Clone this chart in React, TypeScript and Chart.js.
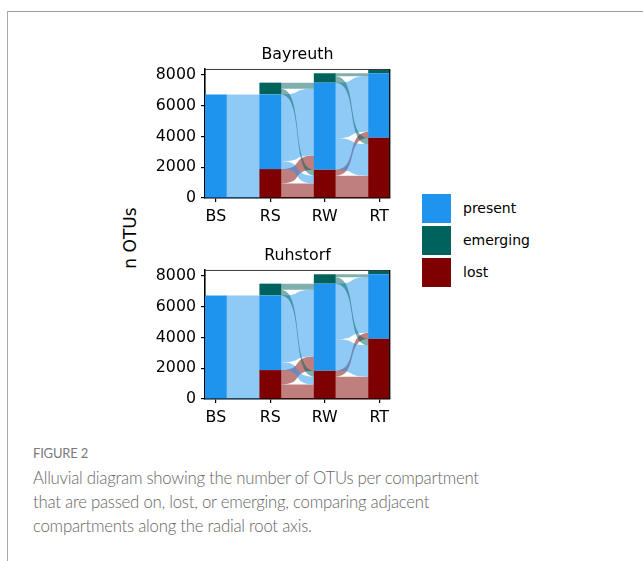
import React, { useEffect, useRef } from "react";
import { Chart, registerables } from "chart.js";

Chart.register(...registerables);

// Compartments along the radial root axis
const compartments = ["BS", "RS", "RW", "RT"];
// Stratum order from the bottom of each column upwards
const strata = ["lost", "present", "emerging"] as const;
type Stratum = (typeof strata)[number];

// OTU counts per stratum in each compartment
const lostOTUs = [0, 1880, 1836, 3915];
const presentOTUs = [6734, 4854, 5664, 4195];
const emergingOTUs = [0, 766, 610, 280];

const yTicks = [0, 2000, 4000, 6000, 8000];

// OTUs passed between adjacent compartments: [from stratum, to stratum, count]
type Flow = [Stratum, Stratum, number];
const flowsBStoRS: Flow[] = [
  ["present", "lost", 1880],
  ["present", "present", 4854],
];
const flowsRStoRW: Flow[] = [
  ["lost", "lost", 950],
  ["lost", "present", 930],
  ["present", "lost", 516],
  ["present", "present", 4338],
  ["emerging", "lost", 370],
  ["emerging", "present", 396],
];
const flowsRWtoRT: Flow[] = [
  ["lost", "lost", 1450],
  ["lost", "present", 386],
  ["present", "lost", 2045],
  ["present", "present", 3619],
  ["emerging", "lost", 420],
  ["emerging", "present", 190],
];
const transitions = [flowsBStoRS, flowsRStoRW, flowsRWtoRT];

const sites = ["Bayreuth", "Ruhstorf"];

const stratumColors: Record<Stratum, string> = {
  present: "#1f94ee",
  emerging: "#00625d",
  lost: "#7f0000",
};
const flowColors: Record<Stratum, string> = {
  present: "rgba(31,148,238,0.5)",
  emerging: "rgba(0,98,93,0.5)",
  lost: "rgba(127,0,0,0.5)",
};

const countsByStratum: Record<Stratum, number[]> = {
  lost: lostOTUs,
  present: presentOTUs,
  emerging: emergingOTUs,
};

const BAR_FRACTION = 0.4;
// how far the curve control points reach into the gap (0.5 = plain S-curve)
const CURVE_REACH = 0.72;
const AXIS_FONT = "'DejaVu Sans', sans-serif";
const AXIS_SIZE = 15.8;

function stratumBase(col: number, s: Stratum): number {
  let base = 0;
  for (const k of strata) {
    if (k === s) break;
    base += countsByStratum[k][col];
  }
  return base;
}

function columnTotal(col: number): number {
  return strata.reduce((sum, s) => sum + countsByStratum[s][col], 0);
}

interface PlacedFlow {
  from: Stratum;
  lo0: number;
  hi0: number;
  lo1: number;
  hi1: number;
}

// Stack the flows inside their source and target strata
function layoutFlows(flows: Flow[], col: number): PlacedFlow[] {
  const src: Record<string, number> = {};
  const dst: Record<string, number> = {};
  strata.forEach((s) => {
    src[s] = stratumBase(col, s);
    dst[s] = stratumBase(col + 1, s);
  });
  const placed = flows.map((f) => ({ f, lo0: 0, hi0: 0, lo1: 0, hi1: 0 }));
  for (const s of strata)
    for (const d of strata)
      for (const p of placed)
        if (p.f[0] === s && p.f[1] === d) {
          p.lo0 = src[s];
          src[s] += p.f[2];
          p.hi0 = src[s];
        }
  for (const d of strata)
    for (const s of strata)
      for (const p of placed)
        if (p.f[0] === s && p.f[1] === d) {
          p.lo1 = dst[d];
          dst[d] += p.f[2];
          p.hi1 = dst[d];
        }
  return placed.map((p) => ({ from: p.f[0], lo0: p.lo0, hi0: p.hi0, lo1: p.lo1, hi1: p.hi1 }));
}

const alluvialFlows = {
  id: "alluvialFlows",
  beforeDatasetsDraw(chart: any) {
    const ctx: CanvasRenderingContext2D = chart.ctx;
    const y = chart.scales.y;
    const bars = chart.getDatasetMeta(0).data as any[];
    ctx.save();
    transitions.forEach((flows, col) => {
      const a = bars[col];
      const b = bars[col + 1];
      const x0 = a.x + a.width / 2 - 0.5;
      const x1 = b.x - b.width / 2 + 0.5;
      const c0 = x0 + (x1 - x0) * CURVE_REACH;
      const c1 = x1 - (x1 - x0) * CURVE_REACH;
      layoutFlows(flows, col).forEach((p) => {
        const t0 = y.getPixelForValue(p.hi0);
        const b0 = y.getPixelForValue(p.lo0);
        const t1 = y.getPixelForValue(p.hi1);
        const b1 = y.getPixelForValue(p.lo1);
        ctx.beginPath();
        ctx.moveTo(x0, t0);
        ctx.bezierCurveTo(c0, t0, c1, t1, x1, t1);
        ctx.lineTo(x1, b1);
        ctx.bezierCurveTo(c1, b1, c0, b0, x0, b0);
        ctx.closePath();
        ctx.fillStyle = flowColors[p.from];
        ctx.fill();
      });
    });
    ctx.restore();
  },
};

// Top and right spines of the axes box
const boxSpines = {
  id: "boxSpines",
  afterDraw(chart: any) {
    const { ctx, chartArea } = chart;
    ctx.save();
    ctx.strokeStyle = "#3a3a3a";
    ctx.lineWidth = 1;
    ctx.beginPath();
    ctx.moveTo(chartArea.left, chartArea.top + 0.5);
    ctx.lineTo(chartArea.right, chartArea.top + 0.5);
    ctx.stroke();
    ctx.strokeStyle = "#111";
    ctx.lineWidth = 1.4;
    ctx.beginPath();
    ctx.moveTo(chartArea.right - 0.3, chartArea.top);
    ctx.lineTo(chartArea.right - 0.3, chartArea.bottom);
    ctx.stroke();
    ctx.restore();
  },
};

function makeConfig(site: string): any {
  const yMax = Math.max(...compartments.map((_, i) => columnTotal(i)));
  const axisFont = { family: AXIS_FONT, size: AXIS_SIZE };
  return {
    type: "bar",
    data: {
      datasets: strata.map((s) => ({
        label: s,
        data: compartments.map((_, i) => ({ x: i + 1, y: countsByStratum[s][i] })),
        backgroundColor: stratumColors[s],
        borderWidth: 0,
        categoryPercentage: BAR_FRACTION,
        barPercentage: 1,
      })),
    },
    options: {
      responsive: false,
      maintainAspectRatio: false,
      animation: false,
      events: [],
      layout: { padding: { left: 0, right: 10, top: 0, bottom: 0 } },
      plugins: {
        legend: { display: false },
        tooltip: { enabled: false },
        title: {
          display: true,
          text: site,
          fullSize: false,
          color: "#000",
          font: { family: AXIS_FONT, size: AXIS_SIZE, weight: "normal", lineHeight: 1.2 },
          padding: { top: 2, bottom: 5 },
        },
      },
      scales: {
        x: {
          type: "linear",
          stacked: true,
          offset: false,
          min: 1 - BAR_FRACTION / 2,
          max: compartments.length + BAR_FRACTION / 2,
          z: 1,
          afterBuildTicks: (scale: any) => {
            scale.ticks = compartments.map((_, i) => ({ value: i + 1 }));
          },
          afterFit: (scale: any) => {
            scale.height = 30;
          },
          grid: {
            offset: false,
            drawOnChartArea: false,
            drawTicks: true,
            tickLength: 4,
            color: "#000",
            lineWidth: 1.2,
          },
          border: { display: true, color: "#000", width: 1.6 },
          ticks: {
            color: "#000",
            font: axisFont,
            padding: 5,
            maxRotation: 0,
            autoSkip: false,
            callback: (v: number) => compartments[Math.round(v) - 1] ?? "",
          },
        },
        y: {
          stacked: true,
          min: 0,
          max: yMax,
          z: 1,
          afterBuildTicks: (scale: any) => {
            scale.ticks = yTicks.map((v) => ({ value: v }));
          },
          afterFit: (scale: any) => {
            scale.width = 50;
          },
          grid: {
            drawOnChartArea: false,
            drawTicks: true,
            tickLength: 4,
            color: "#000",
            lineWidth: 1.2,
          },
          border: { display: true, color: "#000", width: 1.6 },
          ticks: {
            color: "#000",
            font: axisFont,
            padding: 5,
            callback: (v: number) => String(v),
          },
        },
      },
    },
    plugins: [alluvialFlows, boxSpines],
  };
}

function AlluvialPanel({ site, top }: { site: string; top: number }) {
  const ref = useRef<HTMLCanvasElement>(null);
  useEffect(() => {
    const chart = new Chart(ref.current as HTMLCanvasElement, makeConfig(site));
    return () => chart.destroy();
  }, [site]);
  return (
    <canvas
      ref={ref}
      width={245}
      height={185}
      style={{ position: "absolute", left: 155, top, width: 245, height: 185 }}
    />
  );
}

const legendOrder: Stratum[] = ["present", "emerging", "lost"];

export default function App() {
  return (
    <div
      style={{
        position: "absolute",
        left: 0,
        top: 0,
        width: 643,
        height: 561,
        overflow: "hidden",
        background: "#fff",
      }}
    >
      <div
        style={{
          position: "absolute",
          left: 7,
          top: 11,
          width: 700,
          height: 600,
          borderTop: "1px solid #9f9f9f",
          borderLeft: "1px solid #a8a8a8",
        }}
      />
      {sites.map((site, i) => (
        <AlluvialPanel key={site} site={site} top={43 + i * 201} />
      ))}
      <div
        style={{
          position: "absolute",
          left: 130 - 45,
          top: 238 - 11,
          width: 90,
          height: 22,
          lineHeight: "22px",
          textAlign: "center",
          transform: "rotate(-90deg)",
          fontFamily: AXIS_FONT,
          fontSize: 17,
          color: "#000",
          whiteSpace: "nowrap",
        }}
      >
        n OTUs
      </div>
      {legendOrder.map((s, i) => (
        <React.Fragment key={s}>
          <div
            style={{
              position: "absolute",
              left: 422,
              top: 194 + i * 32,
              width: 29,
              height: 29,
              background: stratumColors[s],
            }}
          />
          <div
            style={{
              position: "absolute",
              left: 463,
              top: 194 + i * 32,
              height: 29,
              lineHeight: "29px",
              fontFamily: AXIS_FONT,
              fontSize: 14,
              color: "#000",
              whiteSpace: "nowrap",
            }}
          >
            {s}
          </div>
        </React.Fragment>
      ))}
      <div
        style={{
          position: "absolute",
          left: 33,
          top: 445,
          fontFamily: "Lato, sans-serif",
          fontSize: 13,
          lineHeight: "16px",
          letterSpacing: "-0.2px",
          color: "#7a7a7a",
          whiteSpace: "nowrap",
        }}
      >
        FIGURE 2
      </div>
      <div
        style={{
          position: "absolute",
          left: 33,
          top: 466,
          width: 600,
          fontFamily: "Lato, sans-serif",
          fontWeight: 300,
          fontSize: 16.8,
          lineHeight: "24px",
          letterSpacing: "-0.25px",
          color: "#666",
        }}
      >
        Alluvial diagram showing the number of OTUs per compartment
        <br />
        that are passed on, lost, or emerging, comparing adjacent
        <br />
        compartments along the radial root axis.
      </div>
    </div>
  );
}
